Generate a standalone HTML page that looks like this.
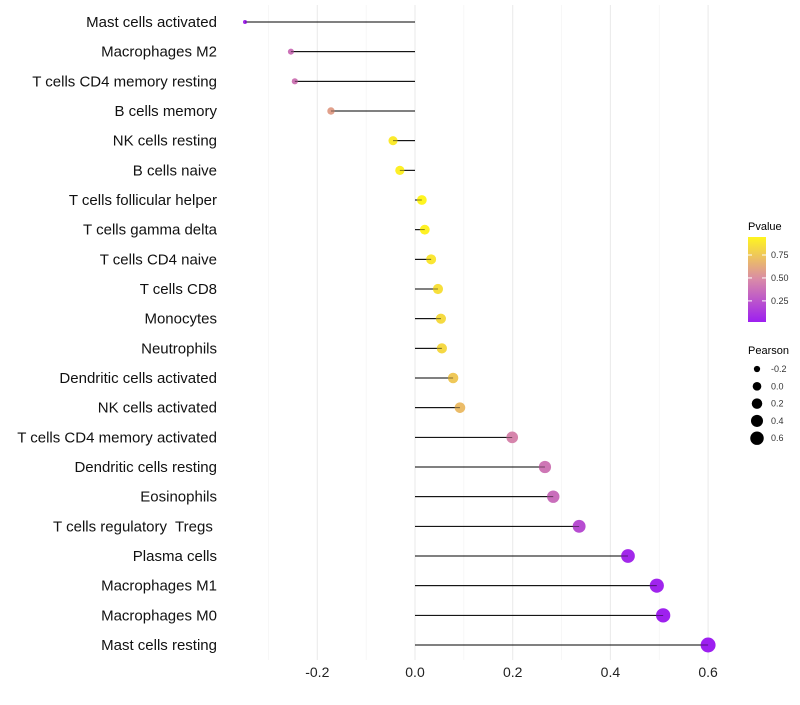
<!DOCTYPE html>
<html><head><meta charset="utf-8"><style>
body{margin:0;background:#fff;font-family:"Liberation Sans",sans-serif;}
svg text{font-family:"Liberation Sans",sans-serif;white-space:pre;}
</style></head><body>
<svg id="chart" width="800" height="700">
<defs><linearGradient id="pg" x1="0" y1="1" x2="0" y2="0">
<stop offset="0" stop-color="#9d1ff0"/><stop offset="0.5" stop-color="#d98aa8"/><stop offset="1" stop-color="#fff51f"/></linearGradient></defs>
<g id="grid"></g><g id="marks"></g><g id="labels"></g><g id="legend"></g>
</svg>
<script>
const categories=["Mast cells activated","Macrophages M2","T cells CD4 memory resting","B cells memory","NK cells resting","B cells naive","T cells follicular helper","T cells gamma delta","T cells CD4 naive","T cells CD8","Monocytes","Neutrophils","Dendritic cells activated","NK cells activated","T cells CD4 memory activated","Dendritic cells resting","Eosinophils","T cells regulatory  Tregs ","Plasma cells","Macrophages M1","Macrophages M0","Mast cells resting"];
const pearson=[-0.348,-0.254,-0.246,-0.172,-0.045,-0.031,0.014,0.02,0.033,0.047,0.053,0.055,0.078,0.092,0.199,0.266,0.283,0.336,0.436,0.495,0.508,0.6];
const pvalue=[0.05,0.38,0.4,0.58,0.9,0.92,0.96,0.93,0.88,0.85,0.83,0.82,0.75,0.7,0.46,0.4,0.36,0.22,0.06,0.04,0.03,0.02];
const xTicks=[-0.2,0.0,0.2,0.4,0.6];
const xMinor=[-0.3,-0.1,0.1,0.3,0.5];
const pTicks=[0.25,0.5,0.75];
const sizeTicks=[-0.2,0,0.2,0.4,0.6];
const NS="http://www.w3.org/2000/svg";
function X(v){return 415+v*488.5;}
function Y(i){return 22+i*29.667;}
const pmin=0.02,pmax=0.946;
function PY(p){return 322-(p-pmin)/(pmax-pmin)*85;}
function lerp(a,b,t){return a+(b-a)*t;}
const cs=[[157,31,240],[217,138,168],[255,245,31]];
function col(p){let t=Math.max(0,Math.min(1,(p-pmin)/(pmax-pmin)));let a,b,u;if(t<0.5){a=cs[0];b=cs[1];u=t*2;}else{a=cs[1];b=cs[2];u=(t-0.5)*2;}return `rgb(${Math.round(lerp(a[0],b[0],u))},${Math.round(lerp(a[1],b[1],u))},${Math.round(lerp(a[2],b[2],u))})`;}
const smin=-0.348,smax=0.6;
function R(v){const t=(v-smin)/(smax-smin);return Math.sqrt(4+t*(56-4));}
function mk(tag,at,parent,txt){const e=document.createElementNS(NS,tag);for(const k in at)e.setAttribute(k,at[k]);if(txt!==undefined)e.textContent=txt;parent.appendChild(e);return e;}
const grid=document.getElementById('grid'),marks=document.getElementById('marks'),labels=document.getElementById('labels'),legend=document.getElementById('legend');
xMinor.forEach(v=>{const l=mk('line',{x1:X(v),x2:X(v),y1:5,y2:660,stroke:'#f2f2f2','stroke-width':0.6},grid);

});
xTicks.forEach(v=>{const l=mk('line',{x1:X(v),x2:X(v),y1:5,y2:660,stroke:'#ebebeb','stroke-width':1.1},grid);


const t=mk('text',{x:X(v),y:677,'text-anchor':'middle','font-size':14,fill:'#222'},labels,v.toFixed(1));

});
categories.forEach((c,i)=>{const y=Y(i);
const t=mk('text',{x:217,y:y+5,'text-anchor':'end','font-size':15,fill:'#111'},labels,c);


const s=mk('line',{x1:X(0),x2:X(pearson[i]),y1:y,y2:y,stroke:'#000','stroke-width':1},marks);


const d=mk('circle',{cx:X(pearson[i]),cy:y,r:R(pearson[i]),fill:col(pvalue[i])},marks);


const s2=mk('line',{x1:X(0),x2:X(pearson[i]),y1:y,y2:y,stroke:'#000','stroke-width':0.8,'stroke-opacity':0.6},marks);

});
let t=mk('text',{x:748,y:230,'font-size':11,fill:'#000'},legend,'Pvalue');


let r=mk('rect',{x:748,y:237,width:18,height:85,fill:'url(#pg)'},legend);


pTicks.forEach(p=>{const y=PY(p);
const a=mk('line',{x1:748,x2:752,y1:y,y2:y,stroke:'#fff'},legend);
const b=mk('line',{x1:762,x2:766,y1:y,y2:y,stroke:'#fff'},legend);
const l=mk('text',{x:771,y:y+3,'font-size':9,fill:'#333'},legend,p.toFixed(2));

});
t=mk('text',{x:748,y:354,'font-size':11,fill:'#000'},legend,'Pearson');


sizeTicks.forEach((v,i)=>{const y=369+i*17.3;
const c=mk('circle',{cx:757,cy:y,r:R(v)*0.9,fill:'#000'},legend);


const l=mk('text',{x:771,y:y+3,'font-size':9,fill:'#333'},legend,v.toFixed(1));

});
</script>
</body></html>
